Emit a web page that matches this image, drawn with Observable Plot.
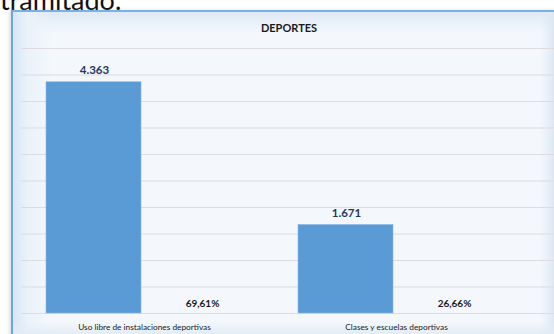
<!DOCTYPE html>
<html>
<head>
<meta charset="utf-8">
<script src="https://cdn.jsdelivr.net/npm/d3@7"></script>
<script src="https://cdn.jsdelivr.net/npm/@observablehq/plot@0.6"></script>
<style>
  html, body { margin: 0; padding: 0; background: #fff; }
  #wrap { position: relative; width: 554px; height: 334px; overflow: hidden; background: #fff; font-family: Lato, "Open Sans", sans-serif; }
  #lead { position: absolute; left: 0; top: -14px; font-size: 27px; line-height: 1; color: #111; font-family: Lato, sans-serif; }
  #frame { position: absolute; left: 11px; top: 10px; width: 600px; height: 400px; box-sizing: border-box;
    border-left: 2px solid #6fa6d8; border-top: 2px solid #7ab1df;
    background:
      linear-gradient(to right, #d6e6f5 0px, #eaf2fa 14px, rgba(244,248,252,0) 40px),
      linear-gradient(to bottom, #dfeaf6 0px, #f4f8fc 22px, #f4f8fc 100%);
    box-shadow: -2px 0 3px rgba(120,140,170,0.25); }
  #title { position: absolute; left: 0; width: 578px; top: 21px; text-align: center; font-weight: bold; font-size: 11px; color: #1a1a1a; }
  #chart { position: absolute; left: 0; top: 0; }
  #rshade { position: absolute; left: 540px; top: 12px; width: 14px; height: 322px; background: linear-gradient(to right, rgba(230,238,247,0), #dde8f4); }
  #bshade { position: absolute; left: 13px; top: 322px; width: 541px; height: 12px; background: linear-gradient(to bottom, rgba(230,238,247,0), #e3ecf6); }
</style>
</head>
<body>
<div id="wrap">
  <div id="lead">tramitado.</div>
  <div id="frame"></div>
  <div id="rshade"></div>
  <div id="bshade"></div>
  <div id="title">DEPORTES</div>
  <div id="chart"></div>
</div>
<script>
const categories = ["Uso libre de instalaciones deportivas", "Clases y escuelas deportivas"];
const counts = [4363, 1671];
const percentages = [69.61, 26.66];
const yTicks = [0, 500, 1000, 1500, 2000, 2500, 3000, 3500, 4000, 4500, 5000];

const es = d3.formatLocale({decimal: ",", thousands: ".", grouping: [3], currency: ["", " €"]});
const fmtCount = es.format(",d");
const fmtPct = es.format(".2f");

const data = categories.map((c, i) => ({category: c, count: counts[i], pct: percentages[i]}));

const chart = Plot.plot({
  width: 554,
  height: 334,
  marginLeft: 21,
  marginRight: 0,
  marginTop: 48,
  marginBottom: 21,
  style: {background: "transparent", fontFamily: "Lato, sans-serif", overflow: "visible"},
  x: {domain: categories, range: [18, 522], padding: 0, axis: null},
  y: {domain: [0, 5000], axis: null},
  marks: [
    Plot.ruleY(yTicks, {stroke: "#dddbe0", strokeWidth: 1}),
    Plot.barY(data, {x: "category", y: "count", fill: "#5b9bd5", stroke: "#8db9e3", strokeWidth: 0.6, insetLeft: 28, insetRight: 129}),
    Plot.text(data, {x: "category", y: "count", text: d => fmtCount(d.count), dx: -50, dy: -12, fill: "#1f3864", fontWeight: "bold", fontSize: 11.5}),
    Plot.text(data, {x: "category", y: 0, text: d => fmtPct(d.pct) + "%", dx: 58, dy: -10, fill: "#1a1a1a", fontWeight: "bold", fontSize: 10}),
    Plot.text(data, {x: "category", y: 0, text: "category", dy: 14, fill: "#222", fontSize: 8.3})
  ]
});
document.getElementById("chart").appendChild(chart);
</script>
</body>
</html>
